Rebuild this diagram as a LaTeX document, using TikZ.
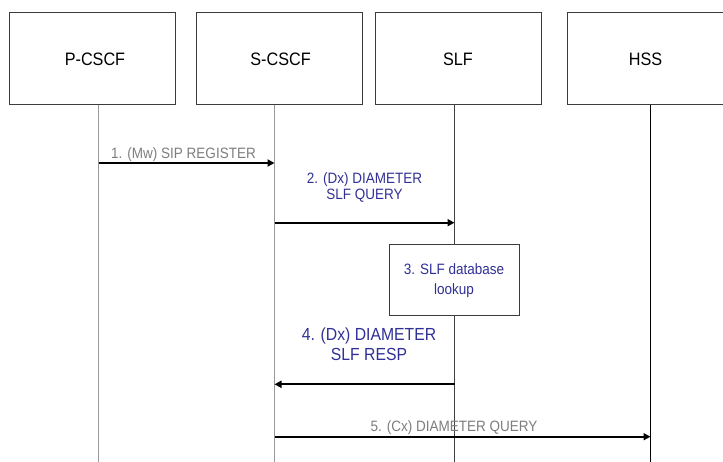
\documentclass[tikz,border=0pt]{standalone}
\usepackage{fontspec}
\setmainfont{Liberation Sans}[FakeStretch=0.9]
\usetikzlibrary{arrows.meta}
\definecolor{msgblue}{RGB}{48,48,150}
\definecolor{msggray}{RGB}{125,125,125}
\definecolor{boxline}{RGB}{60,60,60}
\begin{document}
\begin{tikzpicture}[x=1pt,y=-1pt,
  entity/.style={draw=boxline,line width=1pt,fill=white,minimum width=166pt,minimum height=92pt,inner sep=0pt,font=\fontsize{18}{20}\selectfont},
  lifeline/.style={line width=1pt},
  msg/.style={line width=2pt,-{Triangle[length=7pt,width=7pt]}},
  graylabel/.style={text=msggray,font=\fontsize{15}{18}\selectfont,inner sep=0pt,anchor=base,align=center},
  bluelabel/.style={text=msgblue,font=\fontsize{15}{18}\selectfont,inner sep=0pt,align=center},
  actionbox/.style={draw=boxline,line width=1pt,fill=white,minimum width=130pt,minimum height=71pt,inner sep=0pt,text=msgblue,align=center,font=\fontsize{15}{20}\selectfont}]
\useasboundingbox (0,0) rectangle (723,462);
\clip (0,0) rectangle (723,462);
% entity boxes
\node[entity] (pcscf) at (92.5,59) {\hspace*{5pt}P-CSCF};
\node[entity] (scscf) at (279,59) {\hspace*{3pt}S-CSCF};
\node[entity] (slf) at (458,59) {SLF};
\node[entity] (hss) at (650,59) {HSS\hspace*{9pt}};
% lifeline ends
\coordinate (pTop) at (98.5,105);   \coordinate (pBot) at (98.5,462);
\coordinate (sTop) at (274.5,105);  \coordinate (sBot) at (274.5,462);
\coordinate (lTop) at (454.5,105);\coordinate (lBot) at (454.5,462);
\coordinate (hTop) at (650.5,105);  \coordinate (hBot) at (650.5,462);
\draw[lifeline,draw=gray!80] (pTop) -- (pBot);
\draw[lifeline,draw=gray!80] (sTop) -- (sBot);
\draw[lifeline,draw=black!75] (lTop) -- (lBot);
\draw[lifeline,draw=black] (hTop) -- (hBot);
% message end points
\coordinate (m1a) at (98.5,163);    \coordinate (m1b) at (274.5,163);
\coordinate (m2a) at (274.5,222.7); \coordinate (m2b) at (454.5,222.7);
\coordinate (m4a) at (454.5,384.3); \coordinate (m4b) at (274.5,384.3);
\coordinate (m5a) at (274.5,436.7); \coordinate (m5b) at (650.5,436.7);
% action box
\node[actionbox] (lookup) at (454,280.5) {3. SLF database\\lookup};
% messages
\draw[msg] (m1a) -- (m1b);
\draw[msg] (m2a) -- (m2b);
\draw[msg] (m4a) -- (m4b);
\draw[msg] (m5a) -- (m5b);
% labels
\node[graylabel] (l1) at (183.5,159) {1. (Mw) SIP REGISTER};
\node[bluelabel,anchor=base,font=\fontsize{15}{16}\selectfont] (l2) at (364.5,200) {2. (Dx) DIAMETER\\SLF QUERY};
\node[bluelabel,anchor=base,font=\fontsize{17.5}{20}\selectfont] (l4) at (369,360) {4. (Dx) DIAMETER\\SLF RESP};
\node[graylabel] (l5) at (454,431) {5. (Cx) DIAMETER QUERY};
\end{tikzpicture}
\end{document}
